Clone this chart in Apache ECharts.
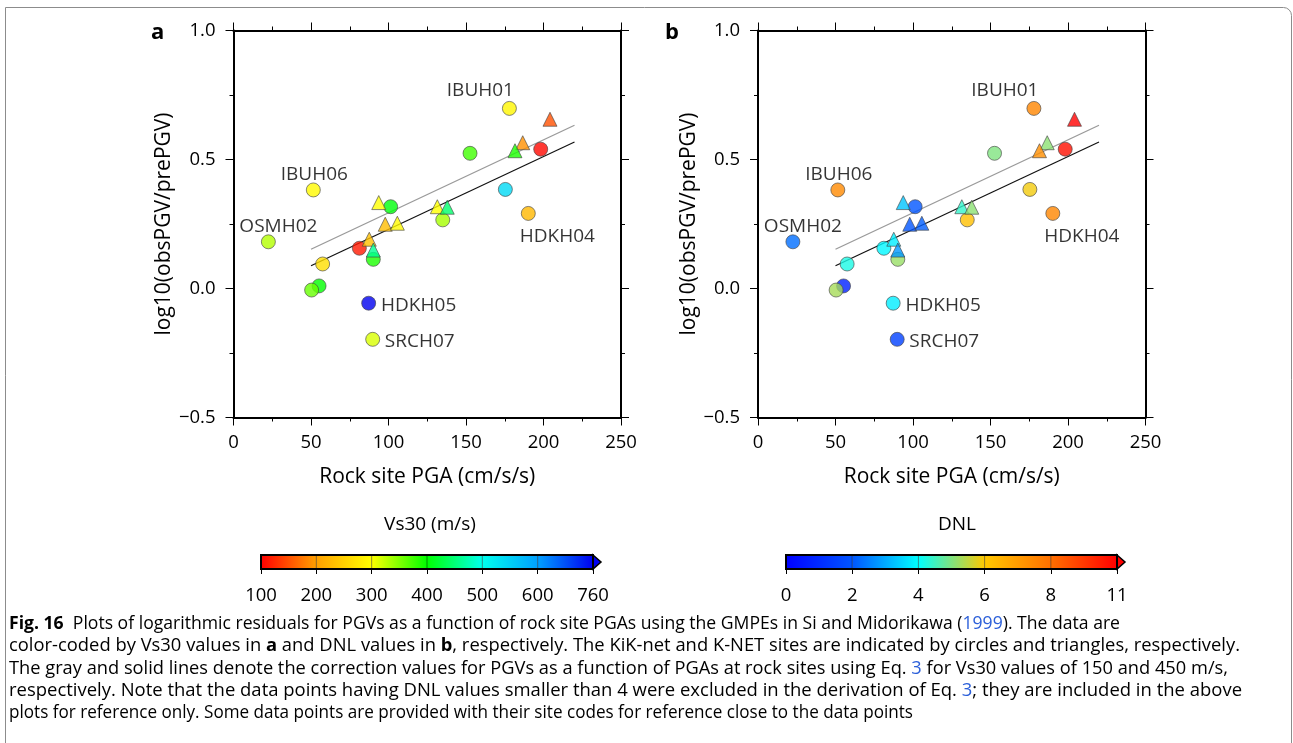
<!DOCTYPE html>
<html>
<head>
<meta charset="utf-8">
<title>Fig. 16 PGV residuals</title>
<script src="https://cdn.jsdelivr.net/npm/echarts@6/dist/echarts.min.js"></script>
<style>
	html, body { margin: 0; padding: 0; background: #fff; }
	#chart { width: 1293px; height: 743px; }
</style>
</head>
<body>
<div id="chart"></div>
<script>
	// rock site PGA (cm/s/s) and log10(obsPGV/prePGV) for each station
	var pga = [178.0, 204.2, 186.6, 181.6, 198.2, 152.6, 51.5, 175.4, 190.2, 93.7, 101.4, 131.5, 137.9, 135.0, 97.9, 105.7, 22.5, 87.6, 81.2, 90.2, 90.2, 57.5, 55.2, 50.4, 87.2, 89.8];
	var resid = [0.698, 0.656, 0.565, 0.534, 0.540, 0.524, 0.382, 0.384, 0.291, 0.333, 0.317, 0.317, 0.315, 0.266, 0.249, 0.253, 0.181, 0.191, 0.156, 0.149, 0.113, 0.095, 0.010, -0.006, -0.057, -0.197];
	// c = KiK-net (circle), t = K-NET (triangle)
	var network = ['c', 't', 't', 't', 'c', 'c', 'c', 'c', 'c', 't', 'c', 't', 't', 'c', 't', 't', 'c', 't', 'c', 't', 'c', 'c', 'c', 'c', 'c', 'c'];
	var vs30 = [290, 150, 190, 390, 105, 375, 295, 540, 225, 300, 405, 300, 445, 335, 230, 295, 330, 235, 115, 460, 390, 265, 400, 360, 760, 315];
	var dnl = [7.5, 11, 5.1, 7.3, 10.6, 5.0, 7.4, 5.9, 7.5, 3.3, 2.0, 4.4, 5.1, 6.2, 2.0, 2.1, 2.3, 3.8, 3.9, 2.8, 5.2, 4.2, 0.8, 5.3, 3.8, 1.5];
	var siteCode = ['IBUH01', '', '', '', '', '', 'IBUH06', '', 'HDKH04', '', '', '', '', '', '', '', 'OSMH02', '', '', '', '', '', '', '', 'HDKH05', 'SRCH07'];

	// correction lines of Eq. 3, Vs30 = 150 (gray) and 450 (black)
	var lineX = [50, 220];
	var line150 = [0.152, 0.633];
	var line450 = [0.088, 0.568];

	// colour bars
	var vsTicks = [100, 200, 300, 400, 500, 600, 760];
	var dnlTicks = [0, 2, 4, 6, 8, 11];
	var vsColors = ['#ff0000', '#ffa000', '#ffff00', '#00ff00', '#00ffee', '#00a0ff', '#0000f0'];
	var dnlColors = ['#0000ff', '#0055ff', '#00ffff', '#ffc800', '#ff7000', '#ff0000'];

	var FONT = '"Open Sans", "Noto Sans", sans-serif';
	var INK = '#000';

	// where the site label sits, relative to its symbol (px)
	var labelOffset = {
		IBUH01: [-29, -18],
		IBUH06: [1, -15],
		OSMH02: [10, -15],
		HDKH04: [29, 23],
		HDKH05: [50, 2],
		SRCH07: [47, 2]
	};

	// value -> position along a colour bar whose ticks are equally spaced
	function barPos(v, ticks) {
		for (var i = 0; i < ticks.length - 1; i++) {
			if (v <= ticks[i + 1]) {
				return Math.max(0, i + (v - ticks[i]) / (ticks[i + 1] - ticks[i]));
			}
		}
		return ticks.length - 1;
	}

	function points(kind, values, ticks) {
		var out = [];
		for (var i = 0; i < pga.length; i++) {
			if (network[i] !== kind) continue;
			var item = { value: [pga[i], resid[i], barPos(values[i], ticks)] };
			if (siteCode[i]) {
				item.label = {
					show: true,
					formatter: siteCode[i],
					position: 'inside',
					offset: labelOffset[siteCode[i]],
					color: INK,
					fontSize: 19,
					fontFamily: FONT,
					textBorderWidth: 0
				};
			}
			out.push(item);
		}
		return out;
	}

	function pairs(xs, ys) {
		return xs.map(function (x, i) { return [x, ys[i]]; });
	}

	function fmtY(v) {
		return v < 0 ? '\u2212' + Math.abs(v).toFixed(1) : v.toFixed(1);
	}

	var frameLine = { show: true, onZero: false, lineStyle: { color: '#000', width: 2 } };
	var tick = { show: true, length: 8, lineStyle: { color: '#000', width: 1 } };
	var minor = { show: true, splitNumber: 2, length: 4, lineStyle: { color: '#000', width: 1 } };

	// main panel axes: bottom/left carry labels, top/right only ticks
	function xAxes(grid) {
		var base = {
			gridIndex: grid, type: 'value', min: 0, max: 250, interval: 50,
			axisLine: frameLine, axisTick: tick, minorTick: minor, splitLine: { show: false }
		};
		var bottom = Object.assign({}, base, {
			position: 'bottom',
			axisLabel: { fontSize: 18.5, fontFamily: FONT, color: INK, margin: 16 },
			name: 'Rock site PGA (cm/s/s)', nameLocation: 'middle', nameGap: 49,
			nameTextStyle: { fontSize: 21, fontFamily: FONT, color: INK }
		});
		var top = Object.assign({}, base, { position: 'top', axisLabel: { show: false } });
		return [bottom, top];
	}

	function yAxes(grid) {
		var base = {
			gridIndex: grid, type: 'value', min: -0.5, max: 1.0, interval: 0.5,
			axisLine: frameLine, axisTick: tick, minorTick: minor, splitLine: { show: false }
		};
		var left = Object.assign({}, base, {
			position: 'left',
			axisLabel: { fontSize: 18.5, fontFamily: FONT, color: INK, margin: 18, formatter: fmtY },
			name: 'log10(obsPGV/prePGV)', nameLocation: 'middle', nameGap: 54,
			nameTextStyle: { fontSize: 21, fontFamily: FONT, color: INK }
		});
		var right = Object.assign({}, base, { position: 'right', axisLabel: { show: false } });
		return [left, right];
	}

	function barAxis(grid, ticks) {
		return {
			gridIndex: grid, type: 'value', min: 0, max: ticks.length - 1, interval: 1,
			axisLine: { show: false },
			axisTick: { show: true, length: 5, lineStyle: { color: '#000', width: 1 } },
			axisLabel: {
				fontSize: 18.5, fontFamily: FONT, color: INK, margin: 17,
				formatter: function (v) { return ticks[Math.round(v)]; }
			},
			splitLine: { show: false }
		};
	}

	function barRender(colors) {
		var n = colors.length - 1;
		return function (params, api) {
			var i = api.value(0);
			var a = api.coord([i, 1]);
			var b = api.coord([i + 1, 0]);
			var kids = [{
				type: 'rect',
				shape: { x: a[0], y: a[1], width: b[0] - a[0], height: b[1] - a[1] },
				style: {
					fill: new echarts.graphic.LinearGradient(0, 0, 1, 0, [
						{ offset: 0, color: colors[i] },
						{ offset: 1, color: colors[i + 1] }
					])
				}
			}];
			if (i > 0) {
				kids.push({ type: 'line', shape: { x1: a[0], y1: a[1], x2: a[0], y2: b[1] }, style: { stroke: 'rgba(0,0,0,0.45)', lineWidth: 1 } });
			}
			if (i === n - 1) {
				var s = api.coord([0, 1]);
				var ym = (a[1] + b[1]) / 2;
				kids.push({
					type: 'polygon',
					shape: { points: [[b[0], a[1]], [b[0] + 8, ym], [b[0], b[1]]] },
					style: { fill: colors[n], stroke: '#000', lineWidth: 1.5 }
				});
				kids.push({
					type: 'rect',
					shape: { x: s[0], y: s[1], width: b[0] - s[0], height: b[1] - s[1] },
					style: { fill: null, stroke: '#000', lineWidth: 2 }
				});
			}
			return { type: 'group', children: kids };
		};
	}

	function segments(ticks) {
		var d = [];
		for (var i = 0; i < ticks.length - 1; i++) d.push([i]);
		return d;
	}

	function panelSeries(ax) {
		var mark = { borderColor: '#444', borderWidth: 0.8 };
		var vals = ax === 0 ? vs30 : dnl;
		var ticks = ax === 0 ? vsTicks : dnlTicks;
		return [
			{ type: 'line', xAxisIndex: ax, yAxisIndex: ax, data: pairs(lineX, line150), showSymbol: false, silent: true,
				lineStyle: { color: '#9a9a9a', width: 1.2 }, z: 1 },
			{ type: 'line', xAxisIndex: ax, yAxisIndex: ax, data: pairs(lineX, line450), showSymbol: false, silent: true,
				lineStyle: { color: '#111', width: 1.2 }, z: 1 },
			{ type: 'scatter', xAxisIndex: ax, yAxisIndex: ax, symbol: 'circle', symbolSize: 14, itemStyle: mark,
				data: points('c', vals, ticks), z: 3 },
			{ type: 'scatter', xAxisIndex: ax, yAxisIndex: ax, symbol: 'triangle', symbolSize: 14, itemStyle: mark,
				data: points('t', vals, ticks), z: 4 }
		];
	}

	var chart = echarts.init(document.getElementById('chart'), null, { renderer: 'canvas' });

	// caption, one text per printed line, squeezed to the printed line ends
	var captionLines = [
		'{b|Fig. 16}  Plots of logarithmic residuals for PGVs as a function of rock site PGAs using the GMPEs in Si and Midorikawa ({l|1999}). The data are',
		'color-coded by Vs30 values in {b|a} and DNL values in {b|b}, respectively. The KiK-net and K-NET sites are indicated by circles and triangles, respectively.',
		'The gray and solid lines denote the correction values for PGVs as a function of PGAs at rock sites using Eq. {l|3} for Vs30 values of 150 and 450 m/s,',
		'respectively. Note that the data points having DNL values smaller than 4 were excluded in the derivation of Eq. {l|3}; they are included in the above',
		'plots for reference only. Some data points are provided with their site codes for reference close to the data points'
	];
	var captionEnd = [1120, 1240, 1228, 1242, 913];
	var CAP = 18;
	var captionRich = {
		b: { fontWeight: 'bold', fontSize: CAP, fontFamily: FONT, fill: INK },
		l: { fontSize: CAP, fontFamily: FONT, fill: '#2b5fd9' }
	};
	var ctx = document.createElement('canvas').getContext('2d');
	function measureRich(line) {
		var w = 0;
		line.split(/(\{[bl]\|[^}]*\})/).forEach(function (part) {
			if (!part) return;
			var m = part.match(/^\{([bl])\|([^}]*)\}$/);
			ctx.font = (m && m[1] === 'b' ? 'bold ' : '') + CAP + 'px ' + FONT;
			w += ctx.measureText(m ? m[2] : part).width;
		});
		return w;
	}

	var graphics = [
		{ type: 'rect', left: 3, top: 5, shape: { width: 1286, height: 800, r: [0, 8, 0, 0] },
			style: { fill: null, stroke: '#8c8c8c', lineWidth: 1 }, silent: true },
		{ type: 'text', x: 151, y: 33, style: { text: 'a', font: 'bold 22px ' + FONT, fill: INK, verticalAlign: 'middle' } },
		{ type: 'text', x: 665, y: 33, style: { text: 'b', font: 'bold 22px ' + FONT, fill: INK, verticalAlign: 'middle' } },
		{ type: 'text', x: 430, y: 525, style: { text: 'Vs30 (m/s)', font: '19px ' + FONT, fill: INK, align: 'center', verticalAlign: 'middle' } },
		{ type: 'text', x: 957, y: 525, style: { text: 'DNL', font: '19px ' + FONT, fill: INK, align: 'center', verticalAlign: 'middle' } }
	];
	captionLines.forEach(function (t, i) {
		graphics.push({
			type: 'text', x: 9, y: 624 + i * 22.2, originX: 0,
			scaleX: (captionEnd[i] - 9) / measureRich(t),
			style: { text: t, fontSize: CAP, fontFamily: FONT, fill: INK, verticalAlign: 'middle', rich: captionRich }
		});
	});

	var xa = xAxes(0), xb = xAxes(1), ya = yAxes(0), yb = yAxes(1);

	chart.setOption({
		animation: false,
		backgroundColor: '#fff',
		grid: [
			{ left: 233.5, top: 30.5, width: 387.5, height: 387 },
			{ left: 758, top: 30.5, width: 387.5, height: 387 },
			{ left: 261, top: 555, width: 332, height: 14 },
			{ left: 786, top: 555, width: 331, height: 14 }
		],
		xAxis: [xa[0], xa[1], xb[0], xb[1], barAxis(2, vsTicks), barAxis(3, dnlTicks)],
		yAxis: [ya[0], ya[1], yb[0], yb[1],
			{ gridIndex: 2, type: 'value', min: 0, max: 1, show: false },
			{ gridIndex: 3, type: 'value', min: 0, max: 1, show: false }],
		visualMap: [
			{ type: 'continuous', show: false, seriesIndex: [2, 3], dimension: 2, min: 0, max: vsTicks.length - 1, inRange: { color: vsColors } },
			{ type: 'continuous', show: false, seriesIndex: [6, 7], dimension: 2, min: 0, max: dnlTicks.length - 1, inRange: { color: dnlColors } }
		],
		series: panelSeries(0).concat(panelSeries(2)).concat([
			{ type: 'custom', xAxisIndex: 4, yAxisIndex: 4, renderItem: barRender(vsColors), data: segments(vsTicks), silent: true, clip: false },
			{ type: 'custom', xAxisIndex: 5, yAxisIndex: 5, renderItem: barRender(dnlColors), data: segments(dnlTicks), silent: true, clip: false }
		]),
		graphic: graphics
	});
</script>
</body>
</html>
